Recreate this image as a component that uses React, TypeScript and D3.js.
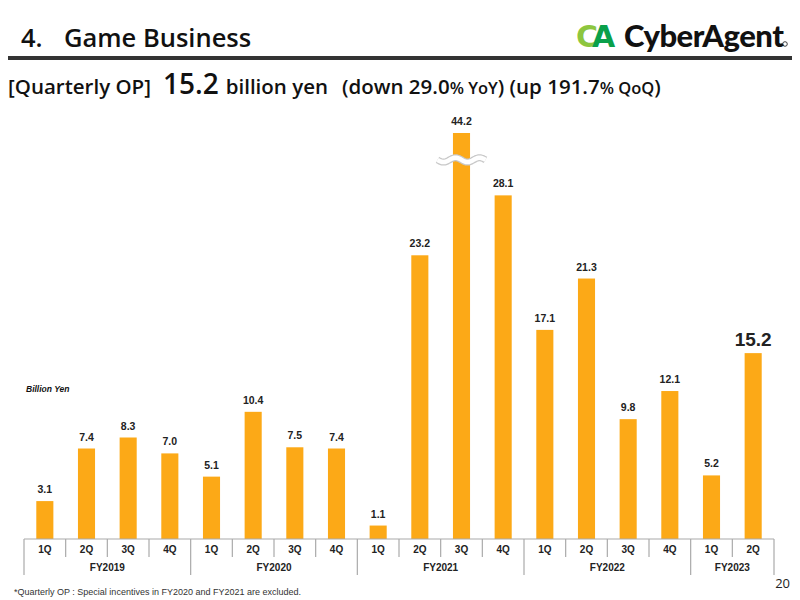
import * as d3 from "d3";

const quarters = ["1Q", "2Q", "3Q", "4Q", "1Q", "2Q", "3Q", "4Q", "1Q", "2Q", "3Q", "4Q", "1Q", "2Q", "3Q", "4Q", "1Q", "2Q"];
const fiscalYears = ["FY2019", "FY2020", "FY2021", "FY2022", "FY2023"];
const quartersPerYear = [4, 4, 4, 4, 2];
const opValues = [3.1, 7.4, 8.3, 7.0, 5.1, 10.4, 7.5, 7.4, 1.1, 23.2, 44.2, 28.1, 17.1, 21.3, 9.8, 12.1, 5.2, 15.2];
// the 44.2 bar is cut with a wave at about this value
const breakCap = 33.2;
const breakAt = 31.0;

const W = 800;
const H = 600;
const base = 539;
const barColor = "#FCA917";
const labelFont = "'Liberation Sans', Arial, sans-serif";
const headFont = "'Open Sans', Lato, sans-serif";
const logoFont = "Lato, 'Open Sans', sans-serif";

export default function App() {
  const ids = opValues.map((_, i) => String(i));
  const x = d3.scaleBand().domain(ids).range([24, 774]);
  const step = x.step();
  const barW = step * 0.41;
  const y = d3.scaleLinear().domain([0, breakCap]).range([base, 133]);

  // group boundaries
  const bounds: number[] = [0];
  quartersPerYear.forEach((n) => bounds.push(bounds[bounds.length - 1] + n));
  const edge = (i: number) => (i < ids.length ? (x(String(i)) as number) : 774);

  const breakIdx = opValues.findIndex((v) => v > breakCap);
  const bx = (x(String(breakIdx)) as number) + step / 2;
  const wave = d3.range(0, 49, 1).map((t) => [t - 24, Math.sin((t / 48) * Math.PI * 4) * 2.2] as [number, number]);
  const waveLine = d3.line().curve(d3.curveBasis)(wave) || "";

  return (
    <svg width={W} height={H} style={{ position: "absolute", left: 0, top: 0, background: "#fff" }}>
      {/* header */}
      <text y={47} fontFamily={headFont} fontWeight={600} fontSize={25.5} fill="#111">
        <tspan x={21}>4.</tspan>
        <tspan x={64}>Game Business</tspan>
      </text>
      <rect x={8} y={56} width={784} height={4} fill="#333" />
      <g>
        <text x={576} y={47} fontFamily="'DejaVu Sans', sans-serif" fontWeight={900} fontSize={30} fill="#8DC63F" letterSpacing={-6}>
          C<tspan fill="#0AA04A">A</tspan>
        </text>
        <text x={624} y={47} fontFamily={logoFont} fontWeight={900} fontSize={31} fill="#111" letterSpacing={-0.5}>
          CyberAgent
        </text>
        <circle cx={785} cy={44} r={2.3} fill="none" stroke="#111" strokeWidth={0.8} />
      </g>
      <text y={94} fontFamily={headFont} fontWeight={600} fontSize={20.5} fill="#111">
        <tspan x={8}>[Quarterly OP]</tspan>
        <tspan x={163} fontSize={28}>15.2</tspan>
        <tspan dx={7}>billion yen</tspan>
        <tspan dx={14}>(down 29.0</tspan>
        <tspan fontSize={16.5}>% YoY</tspan>
        <tspan>) (up 191.7</tspan>
        <tspan fontSize={16.5}>% QoQ</tspan>
        <tspan>)</tspan>
      </text>

      <text x={26} y={392} fontFamily={labelFont} fontStyle="italic" fontWeight={700} fontSize={8.5} fill="#111">
        Billion Yen
      </text>

      {/* bars */}
      {opValues.map((v, i) => {
        const cx = (x(String(i)) as number) + step / 2;
        const top = y(Math.min(v, breakCap));
        const last = i === opValues.length - 1;
        return (
          <g key={i}>
            <rect x={cx - barW / 2} y={top} width={barW} height={base - top} fill={barColor} />
            <text
              x={cx}
              y={top - (last ? 7 : 8)}
              textAnchor="middle"
              fontFamily={labelFont}
              fontWeight={700}
              fontSize={last ? 19 : 10.5}
              fill="#222"
            >
              {v.toFixed(1)}
            </text>
          </g>
        );
      })}

      {/* break mark */}
      <g transform={`translate(${bx},${y(breakAt)})`}>
        <path d={waveLine} fill="none" stroke="#c8c8c8" strokeWidth={7} />
        <path d={waveLine} fill="none" stroke="#fff" strokeWidth={4.5} />
      </g>

      {/* category axis */}
      <line x1={24} x2={774} y1={base} y2={base} stroke="#aaa" strokeWidth={1.2} />
      {d3.range(ids.length + 1).map((i) => {
        const isGroup = bounds.includes(i);
        return <line key={"t" + i} x1={edge(i)} x2={edge(i)} y1={base} y2={isGroup ? 575 : 557} stroke="#aaa" strokeWidth={1.2} />;
      })}
      {quarters.map((q, i) => (
        <text
          key={"q" + i}
          x={(x(String(i)) as number) + step / 2}
          y={553}
          textAnchor="middle"
          fontFamily={labelFont}
          fontWeight={700}
          fontSize={10}
          fill="#222"
        >
          {q}
        </text>
      ))}
      {fiscalYears.map((fy, k) => (
        <text
          key={fy}
          x={(edge(bounds[k]) + edge(bounds[k + 1])) / 2}
          y={571}
          textAnchor="middle"
          fontFamily={labelFont}
          fontWeight={700}
          fontSize={10}
          fill="#222"
        >
          {fy}
        </text>
      ))}

      <text x={14} y={595} fontFamily={labelFont} fontSize={9} fill="#333">
        *Quarterly OP : Special incentives in FY2020 and FY2021 are excluded.
      </text>
      <text x={790} y={588} textAnchor="end" fontFamily={headFont} fontSize={13} fill="#222">
        20
      </text>
    </svg>
  );
}
